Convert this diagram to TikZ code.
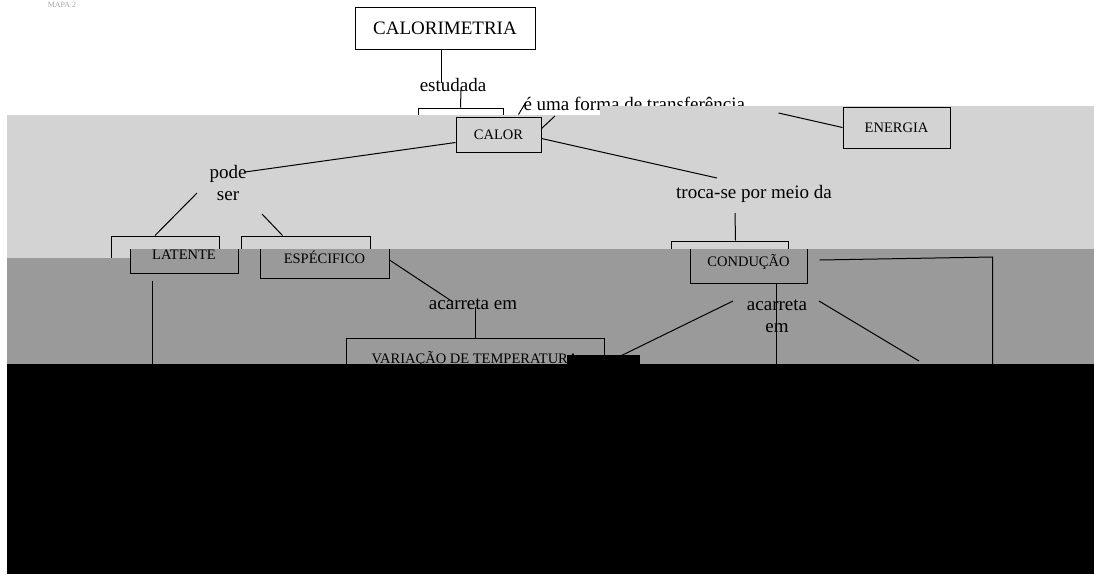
\documentclass[tikz,border=0pt]{standalone}
\usepackage{fontspec}
\setmainfont{Liberation Serif}
\definecolor{bandlight}{RGB}{211,211,211}
\definecolor{banddark}{RGB}{154,154,154}

\begin{document}
\begin{tikzpicture}[x=1pt,y=-1pt,line width=1pt,
    box/.style={draw,rectangle,inner sep=0pt,font=\fontsize{14.5}{17}\selectfont},
    lbl/.style={inner sep=2pt,align=center,font=\fontsize{19}{22.5}\selectfont}]
    \useasboundingbox (0,0) rectangle (1094,574);
    % top, on white
    \node at (62,5) [gray!70,inner sep=0pt,font=\fontsize{8}{8}\selectfont] (mapa) {MAPA 2};
    \node at (445,28) [box,minimum width=180,minimum height=42,font=\fontsize{19}{22}\selectfont] (calorimetria) {CALORIMETRIA};
    \node at (453,85) [lbl] (estudada) {estudada};
    \node at (460.5,125.5) [box,minimum width=85,minimum height=35] (ghostcalor) {};
    \node at (521,104) [lbl,anchor=west] (forma) {é uma forma de transferência};
    \draw ([xshift=-4pt]calorimetria.south) -- ([shift={(-12,-2)}]estudada.center);
    \draw ([shift={(8,5)}]estudada.center) -- (ghostcalor.north);
    \draw ([shift={(15,7)}]ghostcalor.north east) -- ([shift={(5,-2)}]forma.west);
    % light band
    \fill[bandlight] (7,115) -- (600,115) -- (600,106) -- (1094,106) -- (1094,249) -- (130,249) -- (130,258) -- (7,258) -- cycle;
    \node at (498.5,134.5) [box,minimum width=85,minimum height=35] (calor) {CALOR};
    \node at (896.5,127.5) [box,minimum width=107,minimum height=41] (energia) {ENERGIA};
    \node at (228,183) [lbl] (podeser) {pode\\ser};
    \node at (754,194) [lbl] (troca) {troca-se por meio da};
    \node at (165,254.5) [box,minimum width=108,minimum height=37] (ghostlat) {};
    \node at (305.5,257) [box,minimum width=129,minimum height=42] (ghostesp) {};
    \node at (729.5,262) [box,minimum width=117,minimum height=42] (ghostcond) {};
    \draw ([shift={(0,-6)}]calor.east) -- ([shift={(34,12)}]forma.west);
    \draw ([shift={(31,9)}]forma.east) -- (energia.west);
    \draw ([shift={(0,4)}]calor.east) -- ([shift={(-37,-16)}]troca.center);
    \draw ([shift={(0,8)}]calor.west) -- ([shift={(17,-11)}]podeser.center);
    \draw ([shift={(-31,10)}]podeser.center) -- ([xshift=-10pt]ghostlat.north);
    \draw ([shift={(34,31)}]podeser.center) -- ([xshift=-23pt]ghostesp.north);
    \draw ([shift={(-19,19)}]troca.center) -- ([xshift=6pt]ghostcond.north);
    % dark band
    \fill[banddark] (130,249) -- (1094,249) -- (1094,364) -- (7,364) -- (7,258) -- (130,258) -- cycle;
    \begin{scope}
        \clip (130,249) -- (1094,249) -- (1094,364) -- (7,364) -- (7,258) -- (130,258) -- cycle;
        \node at (184,254.5) [box,minimum width=108,minimum height=37] (latente) {LATENTE};
        \node at (324.5,257) [box,minimum width=129,minimum height=42] (especifico) {ESPÉCIFICO};
        \node at (748.5,262) [box,minimum width=117,minimum height=42] (conducao) {CONDUÇÃO};
        \node at (475,359) [box,minimum width=258,minimum height=42] (variacao) {VARIAÇÃO DE TEMPERATURA};
        \node at (473,304) [lbl] (acarreta) {acarreta em};
        \node at (777,316) [lbl] (acarretaem) {acarreta\\em};
        \draw ([shift={(0,3)}]especifico.east) -- ([shift={(-20,-2)}]acarreta.center);
        \draw ([shift={(2,3)}]acarreta.center) -- (variacao.north);
        \draw ([shift={(-32,7)}]latente.south) -- ++(0,100);
        \draw ([xshift=27.5pt]conducao.south) -- ++(0,100);
        \draw ([shift={(12,-2)}]conducao.east) -- ++(173,-3) -- ++(0,150);
        \draw ([shift={(-44,-15)}]acarretaem.center) -- ([shift={(16,-3)}]variacao.east);
        \draw ([shift={(42,-15)}]acarretaem.center) -- ++(100,60);
    \end{scope}
    % black block
    \fill[black] (7,364) rectangle (1094,574);
    \fill[black] (567,355) rectangle (640,364);
\end{tikzpicture}
\end{document}
